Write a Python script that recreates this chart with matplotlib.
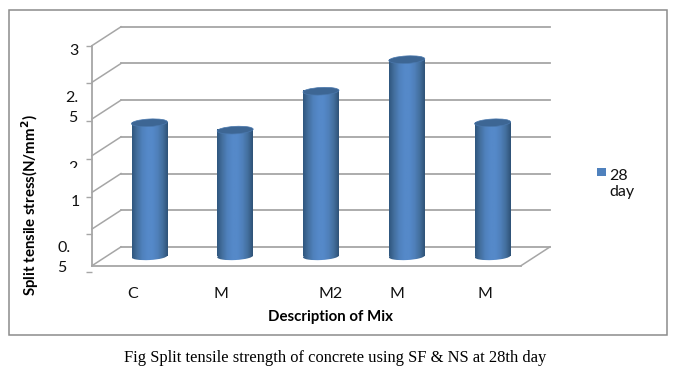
import numpy as np
import matplotlib
matplotlib.use('Agg')
import matplotlib.pyplot as plt
from matplotlib.patches import Ellipse, Rectangle
from matplotlib.colors import LinearSegmentedColormap
from matplotlib.transforms import Affine2D, IdentityTransform

# data
mixes = ['C', 'M', 'M2', 'M', 'M']
split_tensile = [1.82, 1.72, 2.25, 2.68, 1.82]
y_ticks = [0, 0.5, 1, 1.5, 2, 2.5, 3]
series_name = '28\nday'
y_title = 'Split tensile stress(N/mm$\\mathbf{^2}$)'
x_title = 'Description of Mix'
caption = 'Fig Split tensile strength of concrete using SF & NS at 28th day'

W, H = 677, 375
grid_col = '#a6a6a6'
frame_col = '#8c8c8c'
shade = LinearSegmentedColormap.from_list('cyl', ['#30577f', '#44709f', '#4f81bd', '#5589c9', '#5589c9',
                                                  '#4f80ba', '#44709f', '#2f5378'])
cap_col = '#3d6694'


def px_axes(left, top, right, bottom):
    return fig.add_axes([left / W, 1 - bottom / H, (right - left) / W, (bottom - top) / H])


plt.rcParams['font.family'] = 'Lato'
fig = plt.figure(figsize=(W / 100, H / 100), dpi=100)

# whole figure overlay in pixels, for frame and text
page = fig.add_axes([0, 0, 1, 1])
page.set_xlim(0, W)
page.set_ylim(H, 0)
page.axis('off')
page.add_patch(Rectangle((8.5, 9.5), 658, 325.5, fill=False, ec=frame_col, lw=1.1))

# axes sits on the plane through the middle of the bars
ax = px_axes(106.5, 36.2, 535.5, 256.3)
ax.set_xlim(-0.5, len(mixes) - 0.5)
ax.set_ylim(0, 3)
ax.axis('off')
back = ax.transData + Affine2D().translate(14.5, 9.4)
front = ax.transData + Affine2D().translate(-14.5, -9.4)
screen = IdentityTransform()

xa, xb = ax.get_xlim()
for v in y_ticks:
    ax.plot([xa, xb], [v, v], color=grid_col, lw=1.3, transform=back, clip_on=False, zorder=1)
    p0 = front.transform((xa, v))
    p1 = back.transform((xa, v))
    ax.plot([p0[0], p1[0]], [p0[1], p1[1]], color=grid_col, lw=1.1, transform=screen, clip_on=False, zorder=1)
# side wall and floor edges
ax.plot([xa, xa], [0, 3], color=grid_col, lw=1.3, transform=front, clip_on=False, zorder=1)
ax.plot([xa, xb], [0, 0], color=grid_col, lw=1.3, transform=front, clip_on=False, zorder=1)
p0 = front.transform((xb, 0))
p1 = back.transform((xb, 0))
ax.plot([p0[0], p1[0]], [p0[1], p1[1]], color=grid_col, lw=1.1, transform=screen, clip_on=False, zorder=1)

# cylinders
bw = 0.415
cap_w, cap_h, tilt = 36, 7.5, 3
drop = 0.09
grad = np.linspace(0, 1, 64).reshape(1, -1)
for i, v in enumerate(split_tensile):
    x0, x1 = i - bw / 2, i + bw / 2
    ax.imshow(grad, cmap=shade, extent=[x0, x1, 0, v], aspect='auto', zorder=3)
    # rounded foot of the cylinder
    foot = ax.imshow(grad, cmap=shade, extent=[x0, x1, -drop, 0.01], aspect='auto', zorder=3)
    foot.set_clip_box(fig.bbox)
    foot.set_clip_path(Ellipse(ax.transData.transform((i, 0)), cap_w, cap_h, angle=tilt, transform=screen))
    ax.add_patch(Ellipse(ax.transData.transform((i, v)), cap_w, cap_h, angle=tilt, fc=cap_col, ec='#4a78ad',
                         lw=0.5, transform=screen, clip_on=False, zorder=4))
ax.set_xlim(xa, xb)
ax.set_ylim(0, 3)

# tick marks run on a slightly stretched scale in the original
tick_ax = px_axes(92.3, 45.7, 93.3, 272)
tick_ax.set_ylim(0, 3)
tick_ax.patch.set_visible(False)
tick_ax.set_xticks([])
for s in tick_ax.spines.values():
    s.set_visible(False)
tick_ax.set_yticks(y_ticks)
tick_ax.set_yticklabels([])
tick_ax.tick_params(axis='y', length=4.5, width=1, color=grid_col)

# value labels wrap and sit off their ticks, as in the picture
for s, x, y in [('3', 74, 51), ('2.', 72, 98.5), ('5', 73, 118.5), ('1', 75, 201.5), ('0.', 64, 248.5), ('5', 62, 268.5)]:
    page.text(x, y, s, fontsize=11.5, ha='center', va='center', color='#111111')
# this one is cut off at the bottom
two = page.text(73, 168, '2', fontsize=11.5, ha='center', va='center', color='#111111', clip_on=True)
two.set_clip_path(Rectangle((60, 150), 30, 17.5, transform=page.transData))

for lab, x in zip(mixes, [132.7, 221, 331, 397, 485]):
    page.text(x, 294, lab, fontsize=11.5, ha='center', va='center', color='#111111')

page.text(330.5, 317.5, x_title, fontsize=10.8, fontweight='bold', ha='center', va='center', color='black')
page.text(30, 205, y_title, fontsize=10.8, fontweight='bold', rotation=90, ha='center', va='center', color='black')

page.add_patch(Rectangle((597, 168), 9, 7.5, fc='#4f81bd', ec='none'))
page.text(609, 184, series_name, fontsize=11.5, ha='left', va='center', linespacing=1.25, color='#111111')

page.text(335.5, 357.5, caption, fontsize=11.9, family='Liberation Serif', ha='center', va='center', color='black')

fig.savefig('out.png', dpi=100)
